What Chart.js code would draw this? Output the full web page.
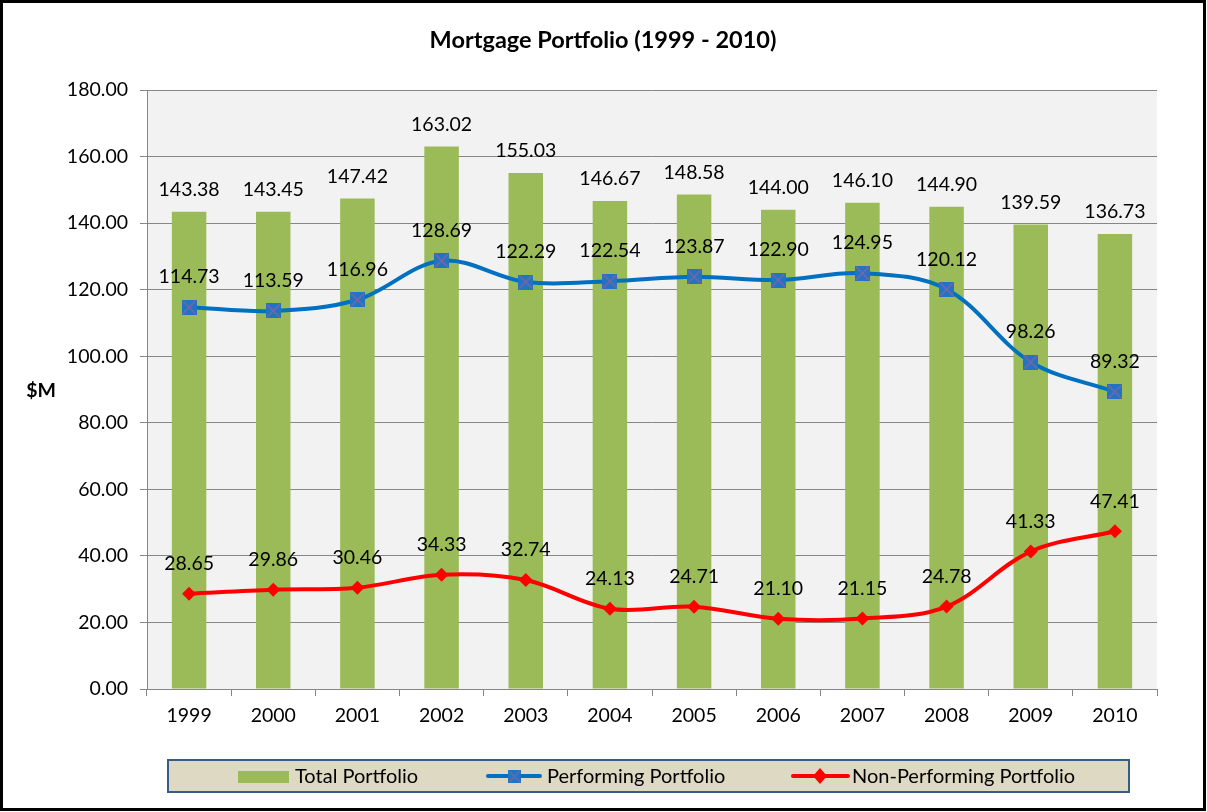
<!DOCTYPE html>
<html>
<head>
<meta charset="utf-8">
<title>Mortgage Portfolio (1999 - 2010)</title>
<script src="https://cdn.jsdelivr.net/npm/chart.js@4.4.1/dist/chart.umd.min.js"></script>
<style>
  html, body { margin: 0; padding: 0; background: #fff; }
  #wrap { position: relative; width: 1207px; height: 812px; }
</style>
</head>
<body>
<div id="wrap"><canvas id="mortgageChart"></canvas></div>
<script>
/* ---------- DATA ---------- */
const years = ["1999", "2000", "2001", "2002", "2003", "2004", "2005", "2006", "2007", "2008", "2009", "2010"];
const totalPortfolio = [143.38, 143.45, 147.42, 163.02, 155.03, 146.67, 148.58, 144.00, 146.10, 144.90, 139.59, 136.73];
const performingPortfolio = [114.73, 113.59, 116.96, 128.69, 122.29, 122.54, 123.87, 122.90, 124.95, 120.12, 98.26, 89.32];
const nonPerformingPortfolio = [28.65, 29.86, 30.46, 34.33, 32.74, 24.13, 24.71, 21.10, 21.15, 24.78, 41.33, 47.41];
const yTicks = [0, 20, 40, 60, 80, 100, 120, 140, 160, 180];

const FONT = "Lato, 'Open Sans', sans-serif";
const GREEN = "#9bbb59";
const BLUE = "#0070c0";
const RED = "#ff0000";

/* ---------- MARKERS ---------- */
function squareX() {
  const c = document.createElement("canvas");
  c.width = 15; c.height = 15;
  const g = c.getContext("2d");
  g.fillStyle = "#1f74c4";
  g.fillRect(0, 0, 15, 15);
  g.strokeStyle = "#8064a2";
  g.lineWidth = 1.6;
  g.beginPath();
  g.moveTo(1, 1); g.lineTo(14, 14);
  g.moveTo(14, 1); g.lineTo(1, 14);
  g.stroke();
  return c;
}
const blueMarker = squareX();

/* ---------- PLUGINS ---------- */
const background = {
  id: "background",
  beforeDraw(chart) {
    const { ctx, chartArea: a } = chart;
    ctx.save();
    ctx.fillStyle = "#fff";
    ctx.fillRect(0, 0, chart.width, chart.height);
    ctx.fillStyle = "#f2f2f2";
    ctx.fillRect(a.left, a.top, a.right - a.left, a.bottom - a.top);
    ctx.restore();
  }
};

const valueLabels = {
  id: "valueLabels",
  afterDatasetsDraw(chart) {
    const ctx = chart.ctx;
    ctx.save();
    ctx.font = "19.5px " + FONT;
    ctx.fillStyle = "#000";
    ctx.textAlign = "center";
    ctx.textBaseline = "middle";
    chart.data.datasets.forEach((ds, i) => {
      const meta = chart.getDatasetMeta(i);
      const off = ds.type === "bar" ? 22 : 30;
      meta.data.forEach((el, j) => {
        ctx.fillText(ds.data[j].toFixed(2), el.x, el.y - off);
      });
    });
    ctx.restore();
  }
};

const decorations = {
  id: "decorations",
  afterDraw(chart) {
    const ctx = chart.ctx;
    ctx.save();
    // title
    ctx.fillStyle = "#000";
    ctx.font = "bold 23.5px " + FONT;
    ctx.textAlign = "center";
    ctx.textBaseline = "middle";
    ctx.fillText("Mortgage Portfolio (1999 - 2010)", 603, 40);
    // y axis title
    ctx.font = "bold 19.5px " + FONT;
    ctx.fillText("$M", 41, 391);

    // legend
    ctx.fillStyle = "#ddd9c3";
    ctx.fillRect(168, 760, 961, 32);
    ctx.strokeStyle = "#385d8a";
    ctx.lineWidth = 2;
    ctx.strokeRect(168, 760, 961, 32);

    ctx.font = "20px " + FONT;
    ctx.textAlign = "left";
    ctx.fillStyle = GREEN;
    ctx.fillRect(238, 771, 51, 12);
    ctx.fillStyle = "#000";
    ctx.fillText("Total Portfolio", 295, 777);

    ctx.strokeStyle = BLUE;
    ctx.lineWidth = 4;
    ctx.lineCap = "round";
    ctx.beginPath(); ctx.moveTo(488, 776); ctx.lineTo(540, 776); ctx.stroke();
    ctx.drawImage(blueMarker, 508, 770, 13, 13);
    ctx.fillStyle = "#000";
    ctx.fillText("Performing Portfolio", 547, 777);

    ctx.strokeStyle = RED;
    ctx.beginPath(); ctx.moveTo(793, 776); ctx.lineTo(848, 776); ctx.stroke();
    ctx.fillStyle = RED;
    ctx.beginPath();
    ctx.moveTo(820, 768); ctx.lineTo(827, 776); ctx.lineTo(820, 784); ctx.lineTo(813, 776);
    ctx.closePath(); ctx.fill();
    ctx.fillStyle = "#000";
    ctx.fillText("Non-Performing Portfolio", 852, 777);

    // outer border
    ctx.strokeStyle = "#000";
    ctx.lineWidth = 3;
    ctx.strokeRect(1.5, 1.5, chart.width - 4, chart.height - 4);
    ctx.restore();
  }
};

/* ---------- CHART ---------- */
document.addEventListener("DOMContentLoaded", function () {
  const ctx = document.getElementById("mortgageChart").getContext("2d");

  new Chart(ctx, {
    data: {
      labels: years,
      datasets: [
        {
          type: "line",
          label: "Performing Portfolio",
          data: performingPortfolio,
          borderColor: BLUE,
          borderWidth: 4,
          tension: 0.35,
          pointStyle: blueMarker,
          pointRadius: 7,
          order: 1
        },
        {
          type: "line",
          label: "Non-Performing Portfolio",
          data: nonPerformingPortfolio,
          borderColor: RED,
          backgroundColor: RED,
          borderWidth: 4,
          tension: 0.35,
          pointStyle: "rectRot",
          pointRadius: 7,
          pointBorderWidth: 0,
          order: 2
        },
        {
          type: "bar",
          label: "Total Portfolio",
          data: totalPortfolio,
          backgroundColor: GREEN,
          barPercentage: 0.41,
          categoryPercentage: 1,
          order: 3
        }
      ]
    },
    options: {
      responsive: true,
      maintainAspectRatio: false,
      animation: false,
      layout: { padding: { top: 90, right: 50, left: 0, bottom: 0 } },
      plugins: {
        legend: { display: false },
        tooltip: { enabled: false }
      },
      scales: {
        x: {
          offset: true,
          afterFit(scale) { scale.height = 123; },
          grid: {
            offset: true,
            drawOnChartArea: false,
            color: "#868686",
            tickLength: 7
          },
          border: { color: "#868686", width: 1 },
          ticks: { color: "#000", font: { family: FONT, size: 19.5 }, padding: 8 }
        },
        y: {
          min: 0,
          max: 180,
          afterFit(scale) { scale.width = 147; },
          afterBuildTicks(scale) { scale.ticks = yTicks.map(v => ({ value: v })); },
          grid: { color: "#868686", tickLength: 7 },
          border: { color: "#868686", width: 1 },
          ticks: {
            color: "#000",
            font: { family: FONT, size: 19.5 },
            padding: 12,
            callback: v => Number(v).toFixed(2)
          }
        }
      }
    },
    plugins: [background, valueLabels, decorations]
  });
});
</script>
</body>
</html>
